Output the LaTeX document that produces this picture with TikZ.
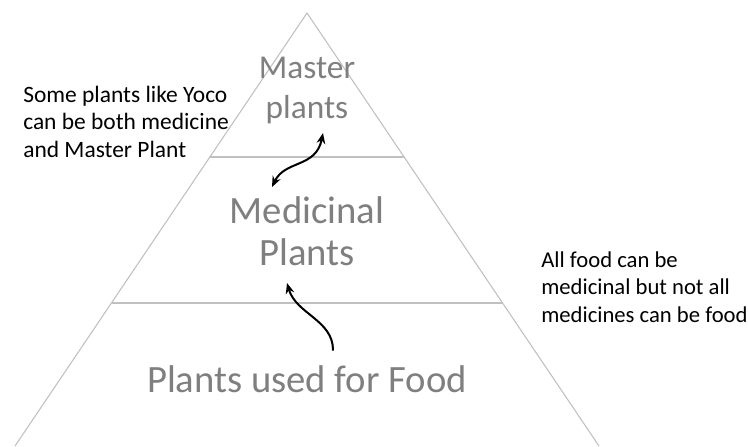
\documentclass[tikz,border=0pt]{standalone}
\usepackage{fontspec}
\setmainfont{Carlito}
\usetikzlibrary{arrows.meta}
\definecolor{edgegray}{HTML}{C0C0C0}
\definecolor{labelgray}{HTML}{7F7F7F}
\begin{document}
\begin{tikzpicture}[x=0.75pt,y=-0.75pt,line cap=round,line join=round,>={Stealth[length=8pt,width=6.5pt]},
	level/.style={text=labelgray,align=center,inner sep=0pt,anchor=base},
	note/.style={align=left,inner sep=0pt,anchor=base west,font=\fontsize{17}{20.5}\selectfont},
	swap/.style={line width=1.5pt}]
	\useasboundingbox (0,0) rectangle (748,446);
	\draw[edgegray,line width=0.8pt] (15,446)--(307,13)--(599,446);
	\draw[edgegray,line width=0.8pt] (210,157)--(404,157) (112,303)--(502,303);
	\node[level,font=\fontsize{25}{29.5}\selectfont] (master) at (307,118) {Master\\plants};
	\node[level,font=\fontsize{29}{31.5}\selectfont] (medicinal) at (307,265) {Medicinal\\Plants};
	\node[level,font=\fontsize{29}{31.5}\selectfont] (food) at (307,392) {Plants used for Food};
	\node[note,font=\fontsize{17.6}{20.6}\selectfont] (noteleft) at (23,157) {Some plants like Yoco\\can be both medicine\\and Master Plant};
	\node[note] (noteright) at (541,322) {All food can be\\medicinal but not all\\medicines can be food};
	\coordinate (upA) at (272,187);
	\coordinate (upB) at (323,133);
	\coordinate (foodA) at (333,350);
	\coordinate (foodB) at (287,283);
	\draw[swap,<->] (upA) .. controls (285,160) and (316,168) .. (upB);
	\draw[swap,->] (foodA) .. controls (333,320) and (296,314) .. (foodB);
\end{tikzpicture}
\end{document}
